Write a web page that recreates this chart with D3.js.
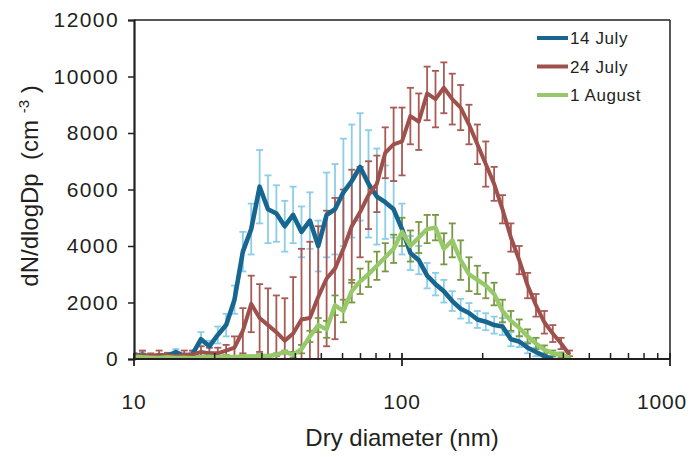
<!DOCTYPE html>
<html>
<head>
<meta charset="utf-8">
<style>
  body { margin: 0; background: #fff; }
  svg text { font-family: "Liberation Sans", Arial, sans-serif; fill: #231f20; }
</style>
</head>
<body>
<div id="chart"></div>
<script src="https://d3js.org/d3.v7.min.js"></script>
<script>
// size bins (nm)
var diameters = [10.0, 10.75, 11.55, 12.41, 13.34, 14.33, 15.40, 16.55, 17.78, 19.11,
  20.54, 22.07, 23.71, 25.48, 27.38, 29.43, 31.62, 33.98, 36.52, 39.24,
  42.17, 45.32, 48.70, 52.33, 56.23, 60.43, 64.94, 69.78, 74.99, 80.58,
  86.60, 93.06, 100.0, 107.46, 115.48, 124.09, 133.35, 143.30, 153.99, 165.48,
  177.83, 191.09, 205.35, 220.67, 237.14, 254.83, 273.84, 294.27, 316.23, 339.82,
  365.17, 392.42, 421.70];

var july14 = [100, 150, 50, 80, 100, 250, 100, 180, 700, 450,
  850, 1200, 2100, 3800, 4600, 6100, 5300, 5150, 4700, 5100,
  4500, 4900, 4000, 5100, 5300, 5900, 6300, 6800, 6200, 5750,
  5550, 5300, 4600, 3750, 3500, 2950, 2650, 2400, 2050, 1780,
  1630, 1400, 1320, 1200, 1150, 700, 620, 400, 250, 100,
  0];
var july14Err = [100, 100, 100, 100, 100, 100, 100, 100, 250, 200,
  300, 400, 500, 700, 900, 1300, 1200, 1000, 900, 1000,
  900, 1000, 900, 1500, 1600, 1900, 2000, 1900, 1900, 1700,
  1300, 1000, 900, 600, 500, 450, 400, 400, 350, 350,
  350, 300, 300, 300, 300, 250, 200, 200, 150, 100,
  80];

var july24 = [100, 150, 100, 150, 120, 100, 150, 150, 250, 200,
  200, 300, 400, 1000, 1950, 1450, 1200, 950, 650, 900,
  1400, 1450, 2200, 2850, 3200, 3900, 4700, 5200, 5800, 6200,
  7300, 7600, 7700, 8600, 8400, 9400, 9200, 9600, 9200, 8900,
  8300, 7600, 6900, 6200, 5300, 4300, 3500, 2600, 1900, 1300,
  900, 550, 150];
var july24Err = [100, 150, 100, 150, 100, 100, 150, 150, 200, 200,
  200, 200, 400, 800, 1000, 1200, 1300, 1300, 1500, 2000,
  2500, 2700, 2500, 2400, 2500, 2100, 2000, 1600, 1200, 1000,
  900, 1300, 1200, 1000, 1000, 950, 1000, 900, 900, 800,
  700, 700, 800, 600, 500, 500, 500, 450, 400, 400,
  300, 200, 150];

var aug1 = [80, 60, 50, 40, 60, 40, 50, 30, 60, 80,
  60, 90, 60, 100, 80, 120, 100, 150, 250, 150,
  350, 800, 1200, 1050, 1900, 1700, 2400, 2750, 3000, 3300,
  3600, 3900, 4500, 4000, 4300, 4600, 4650, 3900, 4200, 3500,
  3000, 2800, 2600, 2300, 1700, 1350, 1100, 800, 550, 330,
  200, 150, 50];
var aug1Err = [50, 50, 50, 50, 50, 50, 50, 50, 50, 50,
  50, 50, 50, 50, 50, 50, 50, 50, 50, 100,
  150, 200, 250, 300, 350, 400, 400, 450, 450, 500,
  500, 500, 500, 550, 550, 500, 450, 550, 600, 700,
  600, 500, 450, 400, 400, 350, 300, 250, 200, 150,
  100, 80, 50];

var seriesNames = ["14 July", "24 July", "1 August"];
var yTicks = [0, 2000, 4000, 6000, 8000, 10000, 12000];
var xMajor = [10, 100, 1000];
var xMinor = [20, 30, 40, 50, 60, 70, 80, 90, 200, 300, 400, 500, 600, 700, 800, 900];

var series = [
  {name: seriesNames[0], values: july14, err: july14Err, line: "#16668f", bar: "#8ccde9", width: 4.6},
  {name: seriesNames[1], values: july24, err: july24Err, line: "#9e514c", bar: "#a85a55", width: 4},
  {name: seriesNames[2], values: aug1, err: aug1Err, line: "#97c96b", bar: "#789845", width: 4.4}
];

var W = 690, H = 457;
var margin = {top: 20, right: 20, bottom: 98, left: 134};
var width = W - margin.left - margin.right, height = H - margin.top - margin.bottom;

var svg = d3.select("#chart").append("svg")
    .attr("width", W)
    .attr("height", H);

var x = d3.scaleLog().domain([10, 1000]).range([0, width]);
var y = d3.scaleLinear().domain([0, 12000]).range([height, 0]);

var g = svg.append("g")
    .attr("transform", "translate(" + margin.left + "," + margin.top + ")");

g.append("defs").append("clipPath").attr("id", "plot")
  .append("rect").attr("x", 0).attr("y", 0).attr("width", width).attr("height", height + 1);

var plot = g.append("g").attr("clip-path", "url(#plot)");

// error bars first, then lines on top
series.forEach(function(s){
  var pts = s.values.map(function(v, i){
    return {d: diameters[i], v: v, lo: Math.max(0, v - s.err[i]), hi: v + s.err[i]};
  });
  var eb = plot.append("g").attr("stroke", s.bar).attr("stroke-width", 1.8);
  eb.selectAll("line.v").data(pts).enter().append("line")
      .attr("x1", function(d){ return x(d.d); })
      .attr("x2", function(d){ return x(d.d); })
      .attr("y1", function(d){ return y(d.lo); })
      .attr("y2", function(d){ return y(d.hi); });
  eb.selectAll("line.top").data(pts).enter().append("line")
      .attr("x1", function(d){ return x(d.d) - 3.5; })
      .attr("x2", function(d){ return x(d.d) + 3.5; })
      .attr("y1", function(d){ return y(d.hi); })
      .attr("y2", function(d){ return y(d.hi); });
  eb.selectAll("line.bot").data(pts.filter(function(d){ return d.lo > 0; })).enter().append("line")
      .attr("x1", function(d){ return x(d.d) - 3.5; })
      .attr("x2", function(d){ return x(d.d) + 3.5; })
      .attr("y1", function(d){ return y(d.lo); })
      .attr("y2", function(d){ return y(d.lo); });
  s.pts = pts;
});

var line = d3.line()
    .x(function(d){ return x(d.d); })
    .y(function(d){ return y(d.v); });

series.forEach(function(s){
  plot.append("path")
      .datum(s.pts)
      .attr("fill", "none")
      .attr("stroke", s.line)
      .attr("stroke-width", s.width)
      .attr("stroke-linejoin", "round")
      .attr("d", line);
});

// frame
var axisColor = "#231f20";
g.append("line").attr("x1", 0).attr("x2", width).attr("y1", 0).attr("y2", 0)
  .attr("stroke", axisColor).attr("stroke-width", 1.5);
g.append("line").attr("x1", width).attr("x2", width).attr("y1", 0).attr("y2", height)
  .attr("stroke", axisColor).attr("stroke-width", 1.5);

// y axis
var yAxis = d3.axisLeft(y).tickValues(yTicks).tickSize(6).tickPadding(9).tickFormat(d3.format("d"));
var ya = g.append("g").call(yAxis);
ya.select(".domain").attr("stroke", axisColor).attr("stroke-width", 2.2);
ya.selectAll(".tick line").attr("stroke", axisColor).attr("stroke-width", 1.5);
ya.selectAll(".tick text").style("font-size", "21px").attr("letter-spacing", "1.4px").attr("fill", axisColor);

// x axis
var xa = g.append("g").attr("transform", "translate(0," + height + ")");
xa.append("line").attr("x1", 0).attr("x2", width).attr("stroke", axisColor).attr("stroke-width", 2.2);
xa.selectAll("line.minor").data(xMinor).enter().append("line")
    .attr("x1", function(d){ return x(d); }).attr("x2", function(d){ return x(d); })
    .attr("y1", 0).attr("y2", -6)
    .attr("stroke", axisColor).attr("stroke-width", 1.5);
xa.selectAll("line.major").data(xMajor).enter().append("line")
    .attr("x1", function(d){ return x(d); }).attr("x2", function(d){ return x(d); })
    .attr("y1", -6).attr("y2", 7)
    .attr("stroke", axisColor).attr("stroke-width", 1.8);
xa.selectAll("text").data(xMajor).enter().append("text")
    .attr("x", function(d, i){ return i === xMajor.length - 1 ? width + 17 : x(d); })
    .attr("y", 50)
    .attr("text-anchor", function(d, i){ return i === xMajor.length - 1 ? "end" : "middle"; })
    .attr("letter-spacing", "0.8px")
    .style("font-size", "21px")
    .text(function(d){ return d; });

// titles
svg.append("text")
    .attr("x", margin.left + x(100))
    .attr("y", 446)
    .attr("text-anchor", "middle")
    .style("font-size", "24px")
    .text("Dry diameter (nm)");

var yt = svg.append("text")
    .attr("transform", "translate(38,186) rotate(-90)")
    .attr("text-anchor", "middle")
    .attr("xml:space", "preserve")
    .style("font-size", "24px");
yt.append("tspan").text("dN/dlogDp\u00a0\u00a0(cm\u00a0");
yt.append("tspan").attr("dy", -9).style("font-size", "15px").text("-3");
yt.append("tspan").attr("dy", 9).text("\u00a0)");

// legend
var leg = svg.append("g").attr("transform", "translate(537,0)");
var rows = leg.selectAll("g").data(series).enter().append("g")
    .attr("transform", function(d, i){ return "translate(0," + (38 + i * 28.5) + ")"; });
rows.append("line").attr("x1", 0).attr("x2", 31).attr("y1", 0).attr("y2", 0)
    .attr("stroke", function(d){ return d.line; }).attr("stroke-width", 4);
rows.append("text").attr("x", 33).attr("y", 6)
    .attr("letter-spacing", "0.6px")
    .style("font-size", "17px")
    .text(function(d){ return d.name; });
</script>
</body>
</html>
